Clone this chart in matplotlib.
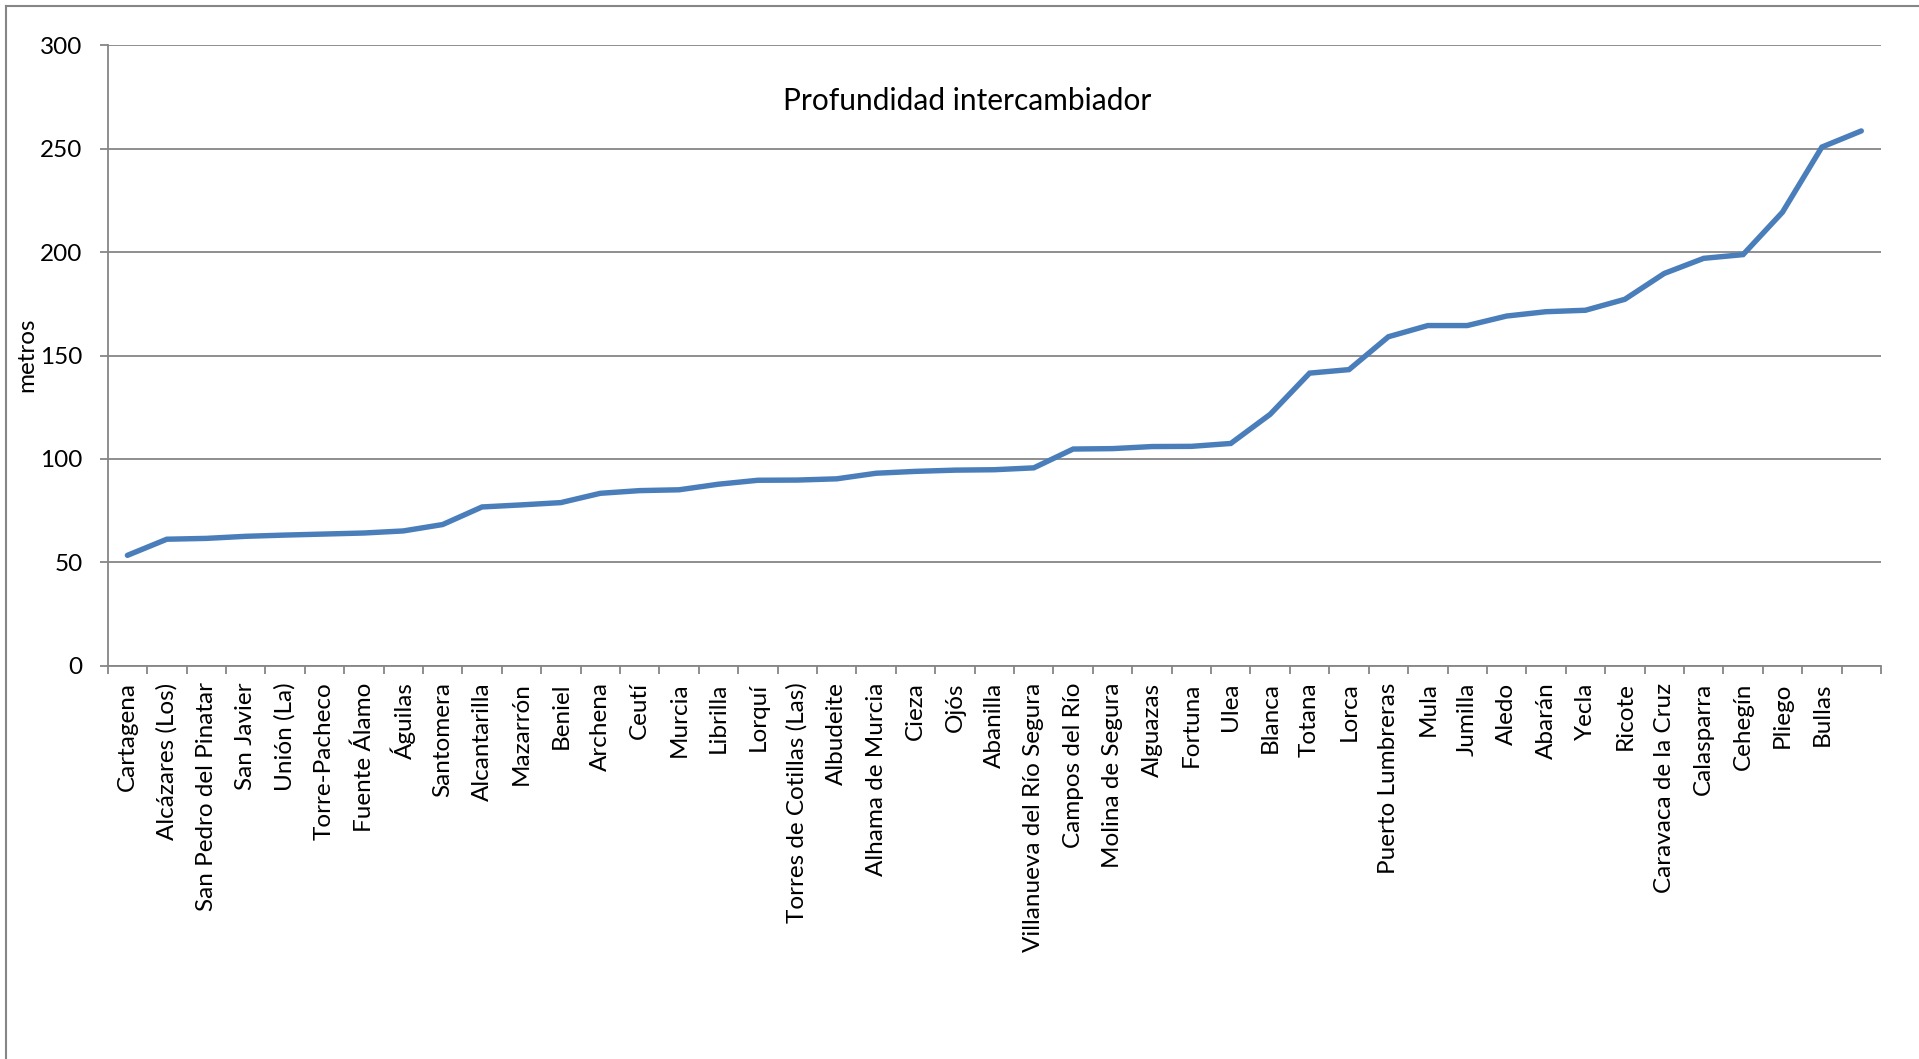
import matplotlib
matplotlib.use("Agg")
import matplotlib.pyplot as plt
from matplotlib.lines import Line2D
import numpy as np

municipios = [
    "Cartagena", "Alcázares (Los)", "San Pedro del Pinatar", "San Javier", "Unión (La)",
    "Torre-Pacheco", "Fuente Álamo", "Águilas", "Santomera", "Alcantarilla",
    "Mazarrón", "Beniel", "Archena", "Ceutí", "Murcia",
    "Librilla", "Lorquí", "Torres de Cotillas (Las)", "Albudeite", "Alhama de Murcia",
    "Cieza", "Ojós", "Abanilla", "Villanueva del Río Segura", "Campos del Río",
    "Molina de Segura", "Alguazas", "Fortuna", "Ulea", "Blanca",
    "Totana", "Lorca", "Puerto Lumbreras", "Mula", "Jumilla",
    "Aledo", "Abarán", "Yecla", "Ricote", "Caravaca de la Cruz",
    "Calasparra", "Cehegín", "Pliego", "Bullas", "",
]
profundidad = [
    53.4, 61.2, 61.6, 62.6, 63.2,
    63.7, 64.2, 65.2, 68.3, 76.8,
    77.8, 78.9, 83.4, 84.7, 85.1,
    87.8, 89.7, 89.8, 90.4, 93.1,
    94.0, 94.6, 94.8, 95.7, 104.8,
    105.0, 106.0, 106.1, 107.5, 121.6,
    141.5, 143.2, 159.1, 164.5, 164.5,
    169.1, 171.2, 171.9, 177.2, 189.7,
    197.0, 198.8, 219.3, 250.8, 258.6,
]
yticks = [0, 50, 100, 150, 200, 250, 300]
titulo = "Profundidad intercambiador"
eje_y = "metros"

plt.rcParams['font.family'] = ['Lato', 'DejaVu Sans']

W, H = 1919, 1059
fig = plt.figure(figsize=(W / 100, H / 100), dpi=100)
fig.patch.set_facecolor("white")

ax = fig.add_axes([107.7 / W, 1 - 665.8 / H, (1881 - 107.7) / W, (665.8 - 45.3) / H])

n = len(municipios)
x = np.arange(n)
ax.plot(x, profundidad, color="#4A7EBB", lw=3.9, solid_capstyle="round",
        solid_joinstyle="miter", zorder=3)

ax.set_xlim(-0.5, n - 0.5)
ax.set_ylim(0, 300)
ax.set_yticks(yticks)
ax.set_yticklabels([str(v) for v in yticks], fontsize=17.5)
ax.yaxis.grid(True, color="#868686", lw=1.3)
ax.set_axisbelow(True)

ax.set_xticks(x)
ax.set_xticklabels(municipios, rotation=90, fontsize=17.5, va="top", ha="center")
ax.set_xticks(np.arange(n + 1) - 0.5, minor=True)
ax.tick_params(axis="x", which="major", length=0, pad=12)
ax.tick_params(axis="x", which="minor", length=6, color="#868686", width=1.3)
ax.tick_params(axis="y", which="major", length=6, color="#868686", width=1.3, pad=12)

for s in ["top", "right"]:
    ax.spines[s].set_visible(False)
for s in ["left", "bottom"]:
    ax.spines[s].set_color("#868686")
    ax.spines[s].set_linewidth(1.3)

fig.text(967 / W, 1 - 101 / H, titulo, ha="center", va="center", fontsize=21.5)

fig.text(27 / W, 1 - 355 / H, eje_y, rotation=90, ha="center", va="center", fontsize=17.5)

# chart area border (left and top edges visible)
fig.add_artist(Line2D([5.5 / W, 5.5 / W], [0, 1 - 5.5 / H], transform=fig.transFigure,
                      color="#868686", lw=1.5))
fig.add_artist(Line2D([5.5 / W, 1], [1 - 5.5 / H, 1 - 5.5 / H], transform=fig.transFigure,
                      color="#868686", lw=1.5))

fig.savefig("out.png", dpi=100)
